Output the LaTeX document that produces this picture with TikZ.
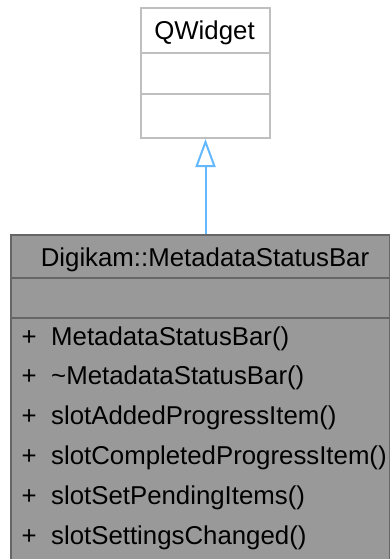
\documentclass[tikz,border=0pt]{standalone}
\usepackage{fontspec}
\setmainfont{Liberation Sans}
\usetikzlibrary{arrows.meta}
\definecolor{qline}{HTML}{BFBFBF}
\definecolor{mfill}{HTML}{999999}
\definecolor{mline}{HTML}{666666}
\definecolor{arrowblue}{HTML}{63B8FF}
\begin{document}
\begin{tikzpicture}[x=1pt,y=-1pt,
  txt/.style={inner sep=0pt, font=\fontsize{25.8}{30}\selectfont, text=black},
  qbox/.style={draw=qline, line width=2pt, fill=white, inner sep=0pt},
  mbox/.style={draw=mline, line width=2pt, fill=mfill, inner sep=0pt},
  inherit/.style={draw=arrowblue, line width=2pt, -{Triangle[open, length=28pt, width=20pt]}}]
\useasboundingbox (0,0) rectangle (390,559);
% QWidget box
\node[qbox, anchor=north west, minimum width=129pt, minimum height=130pt] (qw) at (140,7) {};
\draw[qline, line width=2pt] (140,53) -- (269,53);
\draw[qline, line width=2pt] (140,94) -- (269,94);
\node[txt, anchor=base] (qwt) at (204.5,39.5) {QWidget};
% MetadataStatusBar box
\node[mbox, anchor=north west, minimum width=379pt, minimum height=340pt] (msb) at (10,234) {};
\draw[mline, line width=2pt] (10,278) -- (389,278);
\draw[mline, line width=2pt] (10,318) -- (389,318);
\node[txt, anchor=base] (msbt) at (205,266) {Digikam::MetadataStatusBar};
\foreach \y/\t [count=\i] in {345/MetadataStatusBar(), 384.8/\textasciitilde MetadataStatusBar(), 424.6/slotAddedProgressItem(), 464.4/slotCompletedProgressItem(), 504.2/slotSetPendingItems(), 544/slotSettingsChanged()} {
  \node[txt, anchor=base west] (p\i) at (21.5,\y) {+};
  \node[txt, anchor=base west] (m\i) at (51,\y) {\t};
}
% inheritance
\draw[inherit] (msb.north -| qw.south) -- (qw.south);
\end{tikzpicture}
\end{document}
